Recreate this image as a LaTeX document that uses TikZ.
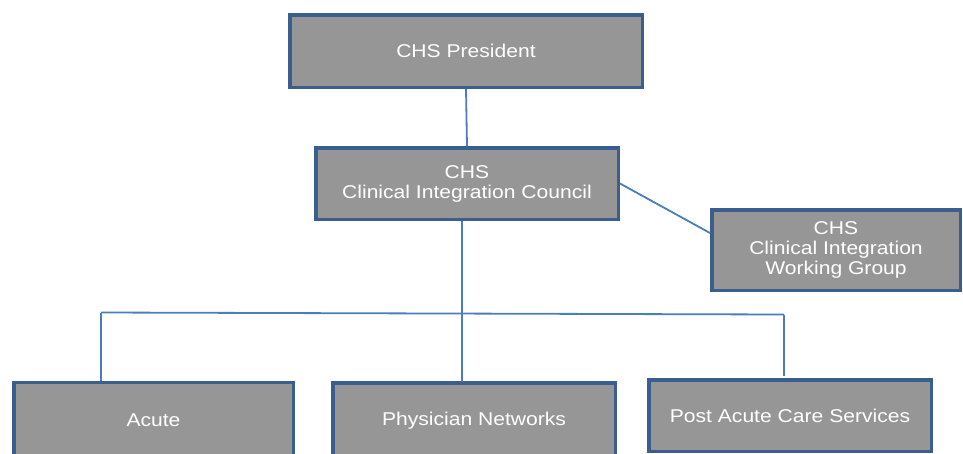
\documentclass[tikz,border=0pt]{standalone}
\usepackage{fontspec}
\setmainfont[FakeStretch=1.14]{Liberation Sans}
\definecolor{boxfill}{HTML}{969696}
\definecolor{boxedge}{HTML}{3A5E8E}
\definecolor{linkblue}{HTML}{4A7DBA}
\begin{document}
\begin{tikzpicture}[x=1pt,y=-1pt,
  orgbox/.style={draw=boxedge, line width=3.5pt, fill=boxfill, text=white,
    font=\fontsize{18.5}{20}\selectfont, align=center, inner sep=0pt},
  link/.style={draw=linkblue, line width=1.8pt}]
\useasboundingbox (0,0) rectangle (963,453);
\clip (0,0) rectangle (963,453);
% boxes: sizes are outer size minus the border width
\node[orgbox, minimum width=352.5pt, minimum height=72.5pt] (pres) at (466,51) {CHS President};
\node[orgbox, minimum width=302.5pt, minimum height=71.5pt] (council) at (467,183.5) {CHS\\Clinical Integration Council};
\node[orgbox, minimum width=248.5pt, minimum height=80.5pt] (wg) at (836,250) {CHS\\Clinical Integration\\Working Group};
\node[orgbox, minimum width=279.5pt, minimum height=76.5pt] (acute) at (153.5,420.5) {Acute};
\node[orgbox, minimum width=282.5pt, minimum height=76.5pt] (phys) at (474,421) {Physician Networks};
\node[orgbox, minimum width=282.5pt, minimum height=71.5pt] (post) at (790,415.5) {Post Acute Care Services};
% connectors
\coordinate (barL) at (101,312.5);
\coordinate (barR) at (784,314.5);
\coordinate (postTop) at (784,376);
\coordinate (dropTop) at (462,221);
\coordinate (dropEnd) at (462,382);
\draw[link] (pres.south) -- (council.north);
\draw[link] (council.east) -- ([yshift=17pt]wg.west);
\draw[link] (dropTop) -- (dropEnd);
\draw[link] (barL) -- (barR);
\draw[link] (barL) -- (barL |- acute.north);
\draw[link] (barR) -- (postTop);
\end{tikzpicture}
\end{document}
